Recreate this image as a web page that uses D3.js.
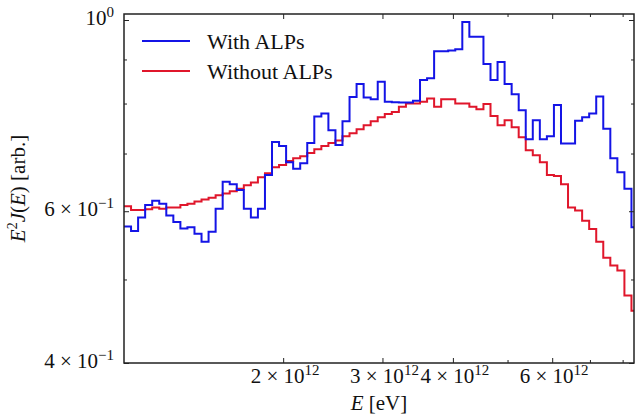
<!DOCTYPE html>
<meta charset="utf-8">
<style>
body { margin: 0; background: #fff; }
text { font-family: "Liberation Serif", "Times New Roman", serif; fill: #111; }
</style>
<body>
<script src="https://d3js.org/d3.v7.min.js"></script>
<script>

// histogram binning: log bins, 80 per decade
var binStart = 1.0441e12,
    binsPerDecade = 80;

// E^2 J(E) per bin
var withALPs = [0.576, 0.569, 0.590, 0.610, 0.617, 0.612, 0.593, 0.583, 0.573, 0.575,
                0.565, 0.553, 0.568, 0.604, 0.649, 0.645, 0.635, 0.604, 0.590, 0.604,
                0.661, 0.722, 0.714, 0.684, 0.672, 0.682, 0.720, 0.773, 0.779, 0.745,
                0.716, 0.763, 0.814, 0.843, 0.813, 0.809, 0.848, 0.804, 0.803, 0.802,
                0.802, 0.806, 0.852, 0.856, 0.920, 0.920, 0.922, 0.925, 0.995, 0.956,
                0.956, 0.889, 0.852, 0.894, 0.843, 0.820, 0.786, 0.727, 0.765, 0.727,
                0.733, 0.797, 0.719, 0.719, 0.764, 0.771, 0.779, 0.815, 0.748, 0.691,
                0.666, 0.637, 0.575];

var withoutALPs = [0.608, 0.602, 0.602, 0.603, 0.606, 0.604, 0.606, 0.606, 0.610, 0.612,
                   0.616, 0.619, 0.622, 0.626, 0.629, 0.633, 0.637, 0.643, 0.648, 0.657,
                   0.664, 0.675, 0.679, 0.686, 0.691, 0.695, 0.701, 0.708, 0.714, 0.720,
                   0.725, 0.733, 0.739, 0.747, 0.755, 0.763, 0.771, 0.778, 0.782, 0.793,
                   0.800, 0.800, 0.804, 0.811, 0.793, 0.809, 0.809, 0.800, 0.800, 0.793,
                   0.788, 0.799, 0.774, 0.755, 0.765, 0.751, 0.731, 0.706, 0.697, 0.684,
                   0.661, 0.659, 0.645, 0.606, 0.601, 0.585, 0.572, 0.553, 0.530, 0.519,
                   0.512, 0.479, 0.460];

var seriesNames = ["With ALPs", "Without ALPs"];
var seriesColors = ["#1414e6", "#e0162b"];

var xTicksMajor = [2e12, 3e12, 4e12, 6e12],
    xTicksMinor = [5e12, 7e12, 8e12];
var yTicksMajor = [0.4, 0.6, 1.0],
    yTicksMinor = [0.5, 0.7, 0.8, 0.9];

var margin = {top: 14, right: 2, bottom: 52, left: 124},
    width = 636 - margin.left - margin.right,
    height = 415 - margin.top - margin.bottom;

var x = d3.scaleLog().domain([1.0441e12, 8.38e12]).range([0, width]);
var y = d3.scaleLog().domain([0.4, 1.0162]).range([height, 0]);

var svg = d3.select("body").append("svg")
    .attr("width", 636)
    .attr("height", 415)
  .append("g")
    .attr("transform", "translate(" + margin.left + "," + margin.top + ")");

svg.append("clipPath").attr("id", "clip")
  .append("rect").attr("width", width).attr("height", height);

// bin edges
var edges = d3.range(withALPs.length + 1).map(function(k) {
  return binStart * Math.pow(10, k / binsPerDecade);
});

function steps(vals) {
  var pts = [];
  vals.forEach(function(v, i) {
    pts.push([edges[i], v]);
    pts.push([edges[i + 1], v]);
  });
  return pts;
}

var line = d3.line()
    .x(function(d) { return x(d[0]); })
    .y(function(d) { return y(d[1]); });

[withoutALPs, withALPs].forEach(function(vals, i) {
  svg.append("path")
      .datum(steps(vals))
      .attr("clip-path", "url(#clip)")
      .attr("fill", "none")
      .attr("stroke", seriesColors[1 - i])
      .attr("stroke-width", 2)
      .attr("d", line);
});

// ticks, all pointing inward
function ticks(axis, vals, len) {
  return axis.tickValues(vals).tickSize(-len).tickFormat("");
}
[[xTicksMajor, 5], [xTicksMinor, 3]].forEach(function(t) {
  svg.append("g").attr("transform", "translate(0," + height + ")").call(ticks(d3.axisBottom(x), t[0], t[1]));
  svg.append("g").call(ticks(d3.axisTop(x), t[0], t[1]));
});
[[yTicksMajor, 5], [yTicksMinor, 3]].forEach(function(t) {
  svg.append("g").call(ticks(d3.axisLeft(y), t[0], t[1]));
  svg.append("g").attr("transform", "translate(" + width + ",0)").call(ticks(d3.axisRight(y), t[0], t[1]));
});
svg.selectAll(".domain").remove();
svg.selectAll(".tick line").attr("stroke", "#222").attr("stroke-width", 1);

svg.append("rect")
    .attr("width", width).attr("height", height)
    .attr("fill", "none").attr("stroke", "#222").attr("stroke-width", 1.5);

// tick labels like 6×10^-1
function sci(t, d) {
  var e = Math.floor(Math.log10(d) + 1e-9),
      m = Math.round(d / Math.pow(10, e));
  t.append("tspan").text(m === 1 ? "10" : m + " \u00d7 10");
  t.append("tspan").attr("dy", -8).attr("font-size", 15)
    .text(String(e).replace("-", "\u2212"));
}

xTicksMajor.forEach(function(d) {
  var t = svg.append("text")
      .attr("x", x(d) + 2).attr("y", height + 20)
      .attr("text-anchor", "middle")
      .attr("font-size", 21);
  sci(t, d);
});

yTicksMajor.forEach(function(d) {
  var t = svg.append("text")
      .attr("x", -10).attr("y", y(d) + 5)
      .attr("text-anchor", "end")
      .attr("font-size", 21);
  sci(t, d);
});

// axis titles
var xl = svg.append("text")
    .attr("text-anchor", "middle")
    .attr("x", width / 2).attr("y", height + 47)
    .attr("font-size", 21);
xl.append("tspan").attr("font-style", "italic").text("E");
xl.append("tspan").text(" [eV]");

var yl = svg.append("text")
    .attr("text-anchor", "middle")
    .attr("transform", "translate(" + (-99) + "," + (height / 2) + ")rotate(-90)")
    .attr("font-size", 21);
yl.append("tspan").attr("font-style", "italic").text("E");
yl.append("tspan").attr("dy", -8).attr("font-size", 14).text("2");
yl.append("tspan").attr("dy", 8).attr("font-style", "italic").text("J");
yl.append("tspan").text("(");
yl.append("tspan").attr("font-style", "italic").text("E");
yl.append("tspan").text(") [arb.]");

// legend
var legend = svg.append("g").attr("transform", "translate(18,27)");
seriesNames.forEach(function(name, i) {
  var g = legend.append("g").attr("transform", "translate(0," + (i * 30) + ")");
  g.append("line")
      .attr("x1", 0).attr("x2", 48)
      .attr("stroke", seriesColors[i]).attr("stroke-width", 2);
  g.append("text")
      .attr("x", 65).attr("y", 7.5)
      .attr("font-size", 22)
      .text(name);
});

</script>
</body>
